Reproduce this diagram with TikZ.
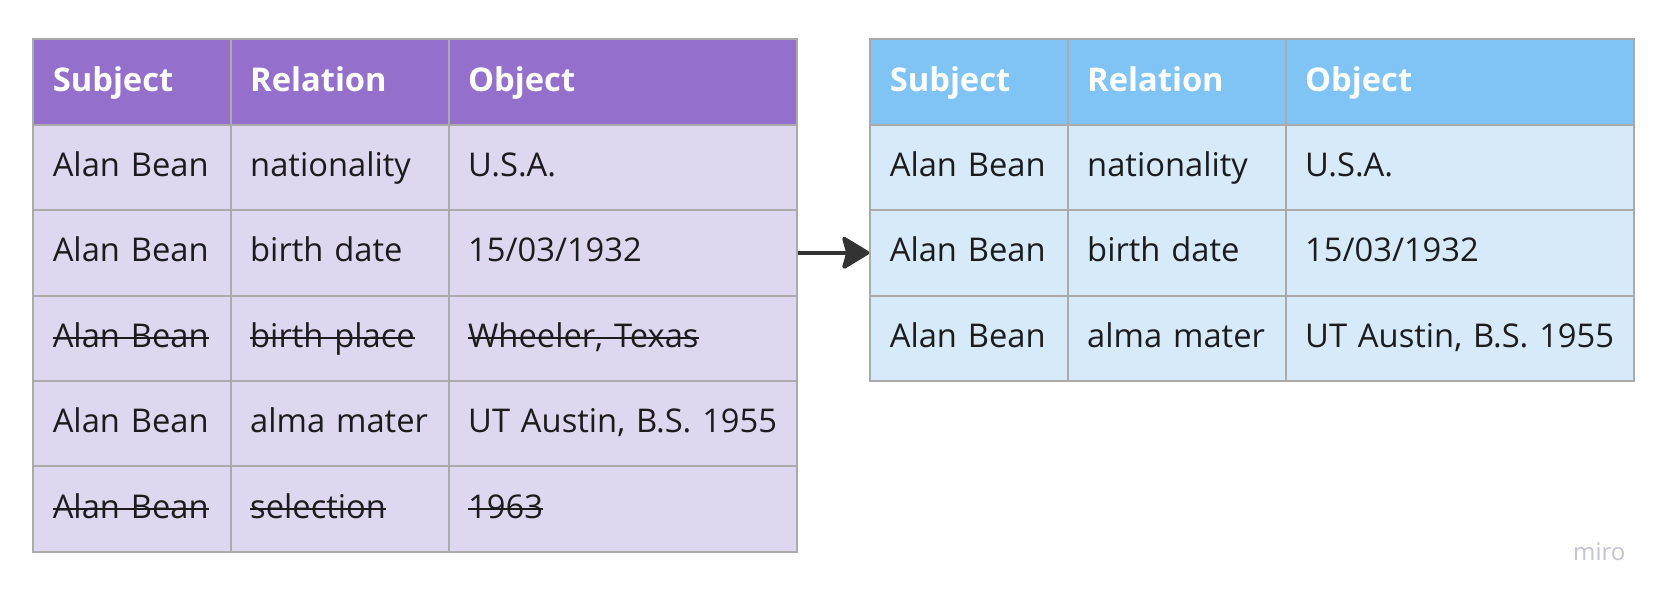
\documentclass[tikz,border=0pt]{standalone}
\usepackage{fontspec}
\setmainfont{Open Sans}
\usetikzlibrary{arrows.meta}
\definecolor{hdrpurple}{HTML}{9470CC}
\definecolor{rowpurple}{HTML}{DFD6F0}
\definecolor{hdrblue}{HTML}{80C4F6}
\definecolor{rowblue}{HTML}{D6EAFA}
\definecolor{bordergray}{HTML}{AAAAAA}
\definecolor{inkdark}{HTML}{1C1C1C}
\definecolor{arrowdark}{HTML}{333333}
\definecolor{logogray}{HTML}{C4C4D2}
\newsavebox\strkbox
\newcommand\strk[1]{\sbox\strkbox{#1}\rlap{\rule[8.3pt]{\wd\strkbox}{2pt}}\usebox\strkbox}
\begin{document}
\begin{tikzpicture}[x=1pt,y=-1pt,
  cell/.style={draw=bordergray, line width=2pt, inner xsep=19.5pt, inner ysep=0pt,
    text height=51.8pt, text depth=33.6pt, align=left, anchor=north west,
    font=\fontsize{32.7}{39}\selectfont, text=inkdark},
  colA/.style={text width=158.4pt},
  colB/.style={text width=179pt},
  colC/.style={text width=309.6pt},
  hdrL/.style={cell, fill=hdrpurple, text=white, font=\fontsize{32.7}{39}\selectfont\bfseries},
  bodyL/.style={cell, fill=rowpurple},
  hdrR/.style={cell, fill=hdrblue, text=white, font=\fontsize{32.7}{39}\selectfont\bfseries},
  bodyR/.style={cell, fill=rowblue},
  link/.style={draw=arrowdark, line width=4pt, -{Stealth[length=30pt,width=36pt,inset=5pt,round]}},
  logo/.style={anchor=base west, inner sep=0pt, text=logogray, font=\fontsize{24}{29}\selectfont}
]
\useasboundingbox (0,0) rectangle (1666,600);

% left table
\node[hdrL,colA] (l-0-1) at (32.3,38.3) {Subject};
\node[hdrL,colB] (l-0-2) at (229.7,38.3) {Relation};
\node[hdrL,colC] (l-0-3) at (447.7,38.3) {Object};

\node[bodyL,colA] (l-1-1) at (32.3,123.7) {Alan Bean};
\node[bodyL,colB] (l-1-2) at (229.7,123.7) {nationality};
\node[bodyL,colC] (l-1-3) at (447.7,123.7) {U.S.A.};

\node[bodyL,colA] (l-2-1) at (32.3,209.1) {Alan Bean};
\node[bodyL,colB] (l-2-2) at (229.7,209.1) {birth date};
\node[bodyL,colC] (l-2-3) at (447.7,209.1) {15/03/1932};

\node[bodyL,colA] (l-3-1) at (32.3,294.5) {\strk{Alan Bean}};
\node[bodyL,colB] (l-3-2) at (229.7,294.5) {\strk{birth place}};
\node[bodyL,colC] (l-3-3) at (447.7,294.5) {\strk{Wheeler, Texas}};

\node[bodyL,colA] (l-4-1) at (32.3,379.9) {Alan Bean};
\node[bodyL,colB] (l-4-2) at (229.7,379.9) {alma mater};
\node[bodyL,colC] (l-4-3) at (447.7,379.9) {UT Austin, B.S. 1955};

\node[bodyL,colA] (l-5-1) at (32.3,465.3) {\strk{Alan Bean}};
\node[bodyL,colB] (l-5-2) at (229.7,465.3) {\strk{selection}};
\node[bodyL,colC] (l-5-3) at (447.7,465.3) {\strk{1963}};

% right table
\node[hdrR,colA] (r-0-1) at (869.3,38.3) {Subject};
\node[hdrR,colB] (r-0-2) at (1066.7,38.3) {Relation};
\node[hdrR,colC] (r-0-3) at (1284.7,38.3) {Object};

\node[bodyR,colA] (r-1-1) at (869.3,123.7) {Alan Bean};
\node[bodyR,colB] (r-1-2) at (1066.7,123.7) {nationality};
\node[bodyR,colC] (r-1-3) at (1284.7,123.7) {U.S.A.};

\node[bodyR,colA] (r-2-1) at (869.3,209.1) {Alan Bean};
\node[bodyR,colB] (r-2-2) at (1066.7,209.1) {birth date};
\node[bodyR,colC] (r-2-3) at (1284.7,209.1) {15/03/1932};

\node[bodyR,colA] (r-3-1) at (869.3,294.5) {Alan Bean};
\node[bodyR,colB] (r-3-2) at (1066.7,294.5) {alma mater};
\node[bodyR,colC] (r-3-3) at (1284.7,294.5) {UT Austin, B.S. 1955};

% arrow
\draw[link] (l-2-3.east) -- (r-2-1.west);

% watermark
\node[logo] (logo) at (1573,560.7) {miro};
\end{tikzpicture}
\end{document}
